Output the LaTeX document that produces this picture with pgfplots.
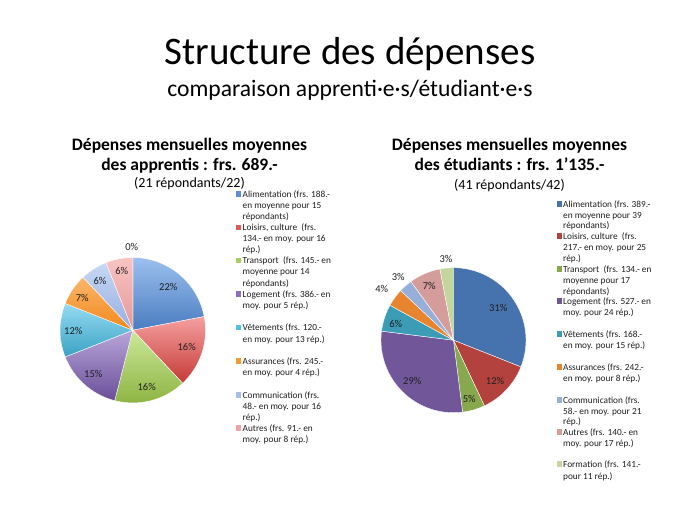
\documentclass[border=0pt]{standalone}
\usepackage{pgfplots}
\pgfplotsset{compat=1.18}
\usepackage{fontspec}
\setmainfont{Carlito}

% left pie (gradient)
\definecolor{LaT}{HTML}{9CC0EE}\definecolor{LaB}{HTML}{4A7CC0}
\definecolor{LbT}{HTML}{F5A0A0}\definecolor{LbB}{HTML}{C53A36}
\definecolor{LcT}{HTML}{CDE89A}\definecolor{LcB}{HTML}{8DB443}
\definecolor{LdT}{HTML}{B9A6DA}\definecolor{LdB}{HTML}{6A4E98}
\definecolor{LeT}{HTML}{95DBF2}\definecolor{LeB}{HTML}{3AA2C4}
\definecolor{LfT}{HTML}{FBB66A}\definecolor{LfB}{HTML}{F3881C}
\definecolor{LgT}{HTML}{C8D8F4}\definecolor{LgB}{HTML}{94AEE0}
\definecolor{LhT}{HTML}{F8C4C4}\definecolor{LhB}{HTML}{E69696}
% left legend swatches
\definecolor{La}{HTML}{5B8EDB}\definecolor{Lb}{HTML}{E05A5A}
\definecolor{Lc}{HTML}{A6D05A}\definecolor{Ld}{HTML}{8F70C0}
\definecolor{Le}{HTML}{4FC2E8}\definecolor{Lf}{HTML}{F99A2E}
\definecolor{Lg}{HTML}{A5BEEA}\definecolor{Lh}{HTML}{F0A3A3}
% right pie
\definecolor{Ra}{HTML}{4673AE}\definecolor{Rb}{HTML}{B3423E}
\definecolor{Rc}{HTML}{88A84E}\definecolor{Rd}{HTML}{72569A}
\definecolor{Re}{HTML}{3C9CB6}\definecolor{Rf}{HTML}{E9842E}
\definecolor{Rg}{HTML}{96AFDA}\definecolor{Rh}{HTML}{D49C9A}
\definecolor{Ri}{HTML}{C3D69B}
\definecolor{txt}{HTML}{1E1E1E}

\newcommand{\slice}[7]{% cx cy r start% end% topcolor bottomcolor
  \pgfmathsetmacro\sa{#4*3.6}\pgfmathsetmacro\sb{#5*3.6}%
  \edef\temp{\noexpand\addplot[top color=#6, bottom color=#7, draw=white, line width=0.4pt, domain=\sa:\sb, samples=60] ({#1+#3*sin(x)},{#2-#3*cos(x)}) -- (axis cs:#1,#2) -- cycle;}\temp}
\newcommand{\lfont}{\fontsize{9.3bp}{11bp}\selectfont}
\newcommand{\LL}[3]{\node[anchor=base west, inner sep=0, font=\lfont, text=txt] at (axis cs:#1,#2+3.2) {#3};}
\newcommand{\sw}[3]{\fill[#3] (axis cs:#1,#2-2.8) rectangle (axis cs:#1+5.5,#2+2.8);}
\newcommand{\pct}[3]{\node[inner sep=0, font=\fontsize{10.5bp}{12bp}\selectfont, text=txt] at (axis cs:#1,#2) {#3};}

\begin{document}
\begin{tikzpicture}
\begin{axis}[hide axis, scale only axis, width=700bp, height=525bp,
  xmin=0, xmax=700, ymin=0, ymax=525, y dir=reverse, clip=false]

% ---------- titles
\node[anchor=base, inner sep=0, font=\fontsize{39bp}{44bp}\selectfont] at (axis cs:350,64.5) {Structure des dépenses};
\node[anchor=base, inner sep=0, font=\fontsize{23.6bp}{27bp}\selectfont] at (axis cs:350,96.5) {comparaison apprenti·e·s/étudiant·e·s};

\node[anchor=base, inner sep=0, font=\fontsize{17.5bp}{20bp}\selectfont\bfseries] at (axis cs:189.5,150.5) {Dépenses mensuelles moyennes};
\node[anchor=base, inner sep=0, font=\fontsize{17.5bp}{20bp}\selectfont\bfseries] at (axis cs:189.5,170.5) {des apprentis : frs. 689.-};
\node[anchor=base, inner sep=0, font=\fontsize{14bp}{17bp}\selectfont] at (axis cs:189.5,187.5) {(21 répondants/22)};

\node[anchor=base, inner sep=0, font=\fontsize{17.5bp}{20bp}\selectfont\bfseries] at (axis cs:509.5,150.5) {Dépenses mensuelles moyennes};
\node[anchor=base, inner sep=0, font=\fontsize{17.5bp}{20bp}\selectfont\bfseries] at (axis cs:509.5,170.5) {des étudiants : frs. 1’135.-};
\node[anchor=base, inner sep=0, font=\fontsize{14bp}{17bp}\selectfont] at (axis cs:509.5,189) {(41 répondants/42)};

% ---------- left pie (percent shares, cumulative)
\slice{132.8}{330.2}{72.7}{0}{22}{LaT}{LaB}
\slice{132.8}{330.2}{72.7}{22}{38}{LbT}{LbB}
\slice{132.8}{330.2}{72.7}{38}{54}{LcT}{LcB}
\slice{132.8}{330.2}{72.7}{54}{69}{LdT}{LdB}
\slice{132.8}{330.2}{72.7}{69}{81}{LeT}{LeB}
\slice{132.8}{330.2}{72.7}{81}{88}{LfT}{LfB}
\slice{132.8}{330.2}{72.7}{88}{94}{LgT}{LgB}
\slice{132.8}{330.2}{72.7}{94}{100}{LhT}{LhB}

\pct{168.3}{286.7}{22\%}
\pct{186.7}{347.3}{16\%}
\pct{146.7}{386.7}{16\%}
\pct{93.3}{374}{15\%}
\pct{73.3}{330.7}{12\%}
\pct{82.3}{297.7}{7\%}
\pct{100}{280.7}{6\%}
\pct{121.7}{271}{6\%}
\pct{131.7}{246.7}{0\%}

% ---------- right pie
\slice{453.5}{340.2}{72.5}{0}{31}{Ra}{Ra}
\slice{453.5}{340.2}{72.5}{31}{43}{Rb}{Rb}
\slice{453.5}{340.2}{72.5}{43}{48}{Rc}{Rc}
\slice{453.5}{340.2}{72.5}{48}{77}{Rd}{Rd}
\slice{453.5}{340.2}{72.5}{77}{83}{Re}{Re}
\slice{453.5}{340.2}{72.5}{83}{87}{Rf}{Rf}
\slice{453.5}{340.2}{72.5}{87}{90}{Rg}{Rg}
\slice{453.5}{340.2}{72.5}{90}{97}{Rh}{Rh}
\slice{453.5}{340.2}{72.5}{97}{100}{Ri}{Ri}

\pct{498.3}{308.3}{31\%}
\pct{495}{381}{12\%}
\pct{469.3}{399}{5\%}
\pct{412.3}{380.7}{29\%}
\pct{395.7}{324}{6\%}
\pct{381.7}{289.3}{4\%}
\pct{398.3}{277.3}{3\%}
\pct{429.3}{286}{7\%}
\pct{446}{259.3}{3\%}

% ---------- left legend
\sw{235.5}{194}{La}
\LL{242.5}{194}{Alimentation (frs. 188.-}
\LL{242.5}{205}{en moyenne pour 15}
\LL{242.5}{216.5}{répondants)}
\sw{235.5}{227.5}{Lb}
\LL{242.5}{227.5}{Loisirs, culture\ \ (frs.}
\LL{242.5}{238.5}{134.- en moy. pour 16}
\LL{242.5}{249.5}{rép.)}
\sw{235.5}{260.5}{Lc}
\LL{242.5}{260.5}{Transport\ \ (frs. 145.- en}
\LL{242.5}{271.5}{moyenne pour 14}
\LL{242.5}{283}{répondants)}
\sw{235.5}{294}{Ld}
\LL{242.5}{294}{Logement (frs. 386.- en}
\LL{242.5}{305}{moy. pour 5 rép.)}
\sw{235.5}{327.5}{Le}
\LL{242.5}{327.5}{Vêtements (frs. 120.-}
\LL{242.5}{339}{en moy. pour 13 rép.)}
\sw{235.5}{361}{Lf}
\LL{242.5}{361}{Assurances (frs. 245.-}
\LL{242.5}{372}{en moy. pour 4 rép.)}
\sw{235.5}{395}{Lg}
\LL{242.5}{395}{Communication (frs.}
\LL{242.5}{406}{48.- en moy. pour 16}
\LL{242.5}{417}{rép.)}
\sw{235.5}{428}{Lh}
\LL{242.5}{428}{Autres (frs. 91.- en}
\LL{242.5}{439}{moy. pour 8 rép.)}

% ---------- right legend
\sw{556.5}{204}{Ra}
\LL{563}{204}{Alimentation (frs. 389.-}
\LL{563}{215}{en moyenne pour 39}
\LL{563}{225.5}{répondants)}
\sw{556.5}{236}{Rb}
\LL{563}{236}{Loisirs, culture\ \ (frs.}
\LL{563}{247}{217.- en moy. pour 25}
\LL{563}{258}{rép.)}
\sw{556.5}{269}{Rc}
\LL{563}{269}{Transport\ \ (frs. 134.- en}
\LL{563}{280}{moyenne pour 17}
\LL{563}{291}{répondants)}
\sw{556.5}{301}{Rd}
\LL{563}{301}{Logement (frs. 527.- en}
\LL{563}{312}{moy. pour 24 rép.)}
\sw{556.5}{334}{Re}
\LL{563}{334}{Vêtements (frs. 168.-}
\LL{563}{345}{en moy. pour 15 rép.)}
\sw{556.5}{367}{Rf}
\LL{563}{367}{Assurances (frs. 242.-}
\LL{563}{378}{en moy. pour 8 rép.)}
\sw{556.5}{400}{Rg}
\LL{563}{400}{Communication (frs.}
\LL{563}{411}{58.- en moy. pour 21}
\LL{563}{421}{rép.)}
\sw{556.5}{432}{Rh}
\LL{563}{432}{Autres (frs. 140.- en}
\LL{563}{443}{moy. pour 17 rép.)}
\sw{556.5}{464}{Ri}
\LL{563}{464}{Formation (frs. 141.-}
\LL{563}{476}{pour 11 rép.)}

\end{axis}
\pgfresetboundingbox
\path[use as bounding box] (0,0) rectangle (700bp,525bp);
\end{tikzpicture}
\end{document}
